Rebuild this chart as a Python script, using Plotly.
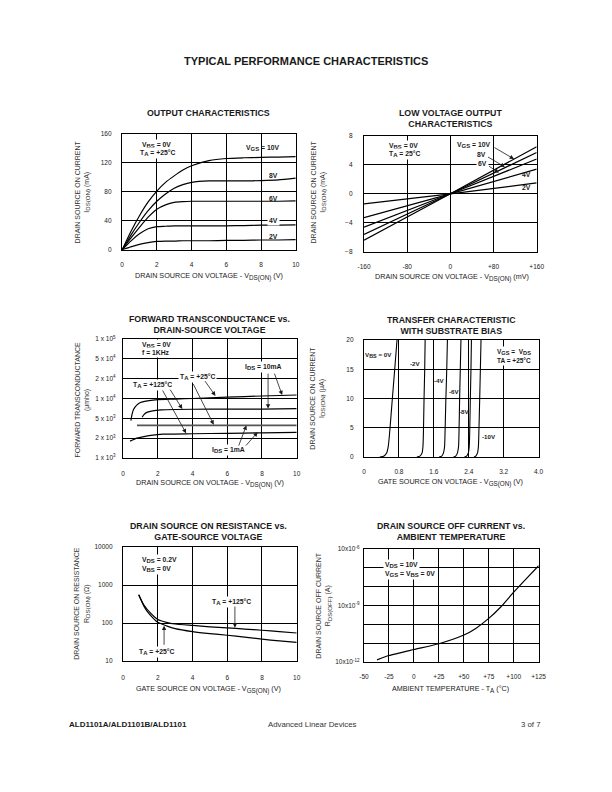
import numpy as np
import plotly.graph_objects as go

FONT = "Liberation Sans, Arial, Helvetica, sans-serif"
W, H = 612, 792
INK = "#1a1a1a"

# ================= DATA =================
# 1. Output characteristics (VBS=0V, TA=+25C)
vds_out = [0, 0.5, 1, 1.5, 2, 2.5, 3, 3.5, 4, 5, 6, 7, 8, 9, 10]
ids_out_10v = [0, 25, 47, 66, 81, 93, 102, 110, 116, 123, 126, 127, 127.5, 128, 128.5]
ids_out_8v = [0, 20, 38, 54, 67, 77, 85, 90, 93, 95, 95, 95, 95.5, 96.5, 99]
ids_out_6v = [0, 16, 31, 45, 56, 62, 65.5, 66.5, 67, 67, 67, 67, 67, 67, 67.5]
ids_out_4v = [0, 12, 22, 29, 32, 32.5, 33, 33, 33, 33, 33, 33.5, 34, 34, 34.5]
ids_out_2v = [0, 4, 7.5, 10, 11.5, 12, 12, 12.5, 12.5, 12.5, 13, 13, 13.5, 13.5, 14]

# 2. Low voltage output characteristics (mV -> mA)
vds_lv = [-160, 0, 160]
ids_lv_10v = [-6.4, 0, 6.5]
ids_lv_8v = [-5.6, 0, 5.7]
ids_lv_6v = [-4.6, 0, 4.8]
ids_lv_4v = [-3.3, 0, 3.4]
ids_lv_2v = [-1.4, 0, 1.5]

# 3. Forward transconductance (umho) vs VDS
gm_ticks = [1e3, 2e3, 5e3, 1e4, 2e4, 5e4, 1e5]
gm_ticktext = ["1 x 10<sup>3</sup>", "2 x 10<sup>3</sup>", "5 x 10<sup>3</sup>",
               "1 x 10<sup>4</sup>", "2 x 10<sup>4</sup>", "5 x 10<sup>4</sup>",
               "1 x 10<sup>5</sup>"]
vds_gm_10ma_25 = [0.45, 0.5, 0.6, 0.8, 1.0, 1.5, 2, 3, 4, 6, 8, 10]
gm_10ma_25 = [4.5e3, 5.5e3, 6.8e3, 8.0e3, 8.7e3, 9.3e3, 9.6e3, 9.8e3, 1.0e4, 1.05e4, 1.09e4, 1.13e4]
vds_gm_10ma_125 = [1.1, 1.2, 1.4, 1.7, 2.2, 3, 5, 8, 10]
gm_10ma_125 = [5.2e3, 5.7e3, 6.2e3, 6.5e3, 6.7e3, 6.8e3, 6.9e3, 6.9e3, 7.0e3]
vds_gm_1ma_25 = [0.8, 10]
gm_1ma_25 = [3.6e3, 3.6e3]
vds_gm_1ma_125 = [0.4, 0.8, 1.2, 1.6, 2.3, 4, 6, 8, 10]
gm_1ma_125 = [1.8e3, 2.0e3, 2.15e3, 2.27e3, 2.4e3, 2.45e3, 2.5e3, 2.55e3, 2.6e3]

# 4. Transfer characteristic with substrate bias (V -> uA)
ids_tr = [0, 0.15, 0.7, 1.8, 4, 10, 15, 20]
vgs_tr_0v = [0.36, 0.46, 0.52, 0.555, 0.585, 0.649, 0.703, 0.756]
vgs_tr_2v = [1.21, 1.28, 1.33, 1.35, 1.36, 1.375, 1.39, 1.40]
vgs_tr_4v = [1.72, 1.78, 1.82, 1.845, 1.855, 1.875, 1.895, 1.91]
vgs_tr_6v = [2.05, 2.10, 2.14, 2.165, 2.175, 2.19, 2.205, 2.22]
vgs_tr_8v = [2.30, 2.35, 2.39, 2.41, 2.42, 2.435, 2.45, 2.46]
vgs_tr_10v = [2.52, 2.56, 2.60, 2.62, 2.63, 2.65, 2.665, 2.68]

# 5. Drain source on resistance (ohm) vs VGS
vgs_r_125 = [0.9, 1.2, 1.6, 2.0, 2.5, 3, 4, 5, 6, 7, 8, 9, 10]
rds_125 = [560, 300, 180, 125, 105, 95, 87, 80, 75, 70, 65, 60, 55]
vgs_r_25 = [0.9, 1.2, 1.4, 1.7, 2.0, 2.5, 3, 4, 5, 6, 7, 8, 9, 10]
rds_25 = [560, 280, 200, 140, 105, 85, 72, 60, 53, 48, 43, 38, 34, 31]

# 6. Drain source off current (A) vs ambient temperature
temp_off = [-37, -25, 0, 25, 50, 62, 75, 87, 100, 112, 125]
ids_off = [1.32e-11, 2.24e-11, 4.7e-11, 9.5e-11, 2.75e-10, 6.2e-10, 2.1e-9, 8.5e-9,
           5.2e-8, 2.5e-7, 1.32e-6]
off_ticks = [1e-11, 1e-10, 1e-9, 1e-8, 1e-7, 1e-6, 1e-5]
off_ticktext = ["10x10<sup>-12</sup>", "", "", "10x10<sup>-9</sup>", "", "", "10x10<sup>-6</sup>"]


def gm_pos(v):
    return np.interp(np.log10(v), np.log10(gm_ticks), np.arange(len(gm_ticks)))


def sub(s):
    return f'<sub><span style="font-size:125%">{s}</span></sub>'


# ================= FIGURE =================
fig = go.Figure()


def ref(i):
    return ("x", "y") if i == 1 else (f"x{i}", f"y{i}")


def curve(i, x, y, width=1.2, color="black"):
    xr, yr = ref(i)
    fig.add_trace(go.Scatter(x=x, y=y, xaxis=xr, yaxis=yr, mode="lines",
                             line=dict(color=color, width=width, shape="spline", smoothing=0.6),
                             showlegend=False, hoverinfo="skip"))


for s in [ids_out_10v, ids_out_8v, ids_out_6v, ids_out_4v, ids_out_2v]:
    curve(1, vds_out, s)
for s in [ids_lv_10v, ids_lv_8v, ids_lv_6v, ids_lv_4v, ids_lv_2v]:
    curve(2, vds_lv, s)
curve(3, vds_gm_10ma_25, gm_pos(gm_10ma_25))
curve(3, vds_gm_10ma_125, gm_pos(gm_10ma_125))
curve(3, vds_gm_1ma_25, gm_pos(gm_1ma_25), width=1.8, color="#555")
curve(3, vds_gm_1ma_125, gm_pos(gm_1ma_125))
for s in [vgs_tr_0v, vgs_tr_2v, vgs_tr_4v, vgs_tr_6v, vgs_tr_8v, vgs_tr_10v]:
    curve(4, s, ids_tr, width=1.1)
curve(5, vgs_r_125, rds_125)
curve(5, vgs_r_25, rds_25)
curve(6, temp_off, ids_off)

# frames in pixels: left, right, top, bottom
frames = {1: (118, 296, 131, 248), 2: (366, 543, 133, 250), 3: (119, 297, 338, 458),
          4: (366, 545, 339, 457), 5: (119, 297, 548, 663), 6: (366, 545, 550, 664)}


def base_axis(standoff):
    return dict(showline=True, mirror=True, linecolor="black", linewidth=1.2,
                showgrid=True, gridcolor="black", gridwidth=1, zeroline=False,
                ticks="", ticklabelstandoff=standoff, fixedrange=True,
                tickfont=dict(family=FONT, size=6.5, color="#222"))


layout = dict(width=W, height=H, margin=dict(l=0, r=0, t=0, b=0),
              paper_bgcolor="white", plot_bgcolor="white", showlegend=False)

xcfg = {
    1: dict(range=[0, 10], tickvals=[0, 2, 4, 6, 8, 10]),
    2: dict(range=[-160, 160], tickvals=[-160, -80, 0, 80, 160],
            ticktext=["-160", "-80", "0", "+80", "+160"]),
    3: dict(range=[0, 10], tickvals=[0, 2, 4, 6, 8, 10]),
    4: dict(range=[0, 4], tickvals=[0, 0.8, 1.6, 2.4, 3.2, 4.0],
            ticktext=["0", "0.8", "1.6", "2.4", "3.2", "4.0"]),
    5: dict(range=[0, 10], tickvals=[0, 2, 4, 6, 8, 10]),
    6: dict(range=[-50, 125], tickvals=[-50, -25, 0, 25, 50, 75, 100, 125],
            ticktext=["-50", "-25", "0", "+25", "+50", "+75", "+100", "+125"]),
}
ycfg = {
    1: dict(range=[0, 160], tickvals=[0, 40, 80, 120, 160]),
    2: dict(range=[-8, 8], tickvals=[-8, -4, 0, 4, 8]),
    3: dict(range=[0, 6], tickvals=list(range(7)), ticktext=gm_ticktext),
    4: dict(range=[0, 20], tickvals=[0, 5, 10, 15, 20]),
    5: dict(type="log", range=[1, 4], tickvals=[10, 100, 1000, 10000],
            ticktext=["10", "100", "1000", "10000"]),
    6: dict(type="log", range=[-11, -5], tickvals=off_ticks, ticktext=off_ticktext),
}
xstand = {1: 8, 2: 8, 3: 9, 4: 8, 5: 10, 6: 8}
ystand = {1: 8, 2: 9, 3: 5, 4: 8, 5: 8, 6: 2}

for i, (l, r, t, b) in frames.items():
    xr, yr = ref(i)
    xa = base_axis(xstand[i]); xa.update(xcfg[i])
    ya = base_axis(ystand[i]); ya.update(ycfg[i])
    xa.update(domain=[l / W, r / W], anchor=yr)
    ya.update(domain=[1 - b / H, 1 - t / H], anchor=xr)
    layout["xaxis" if i == 1 else f"xaxis{i}"] = xa
    layout["yaxis" if i == 1 else f"yaxis{i}"] = ya

annotations = []


def label(i, x, y, text, size=6.8, xanchor="center", bg=None):
    xr, yr = ref(i)
    d = dict(xref=xr, yref=yr, x=x, y=y, text=f"<b>{text}</b>", showarrow=False,
             xanchor=xanchor, yanchor="middle",
             font=dict(family=FONT, size=size, color=INK), borderpad=1)
    if bg:
        d["bgcolor"] = bg
    annotations.append(d)


def arrow(i, x0, y0, x1, y1):
    xr, yr = ref(i)
    annotations.append(dict(xref=xr, yref=yr, x=x1, y=y1, ax=x0, ay=y0, axref=xr, ayref=yr,
                            text="", showarrow=True, arrowhead=2, arrowsize=1.1,
                            arrowwidth=0.8, arrowcolor=INK, standoff=0))


def page_text(px, py, text, size, bold=False, xanchor="center", angle=0, color=INK):
    t = f"<b>{text}</b>" if bold else text
    annotations.append(dict(xref="paper", yref="paper", x=px / W, y=1 - py / H, text=t,
                            showarrow=False, xanchor=xanchor, yanchor="middle",
                            textangle=angle, font=dict(family=FONT, size=size, color=color)))


WB = "white"
# --- plot 1 labels
label(1, 2.0, 144, f"V{sub('BS')} = 0V", bg=WB)
label(1, 2.05, 133, f"T{sub('A')} = +25°C", bg=WB)
label(1, 8.1, 140, f"V{sub('GS')} = 10V")
label(1, 8.7, 102, "8V")
label(1, 8.7, 71, "6V")
label(1, 8.7, 40, "4V", bg=WB)
label(1, 8.7, 19, "2V")

# --- plot 2 labels
label(2, -117, 6.65, f"V{sub('BS')} = 0V", xanchor="left", bg=WB)
label(2, -117, 5.55, f"T{sub('A')} = 25°C", xanchor="left", bg=WB)
label(2, 42, 6.76, f"V{sub('GS')} = 10V")
label(2, 58, 5.4, "8V")
label(2, 60, 4.15, "6V", bg=WB)
label(2, 141, 2.6, "4V")
label(2, 141, 0.9, "2V")
arrow(2, 79, 6.5, 118, 4.8)
arrow(2, 67, 5.2, 101, 3.7)
arrow(2, 69, 3.95, 90, 2.9)

# --- plot 3 labels (y in tick-position units)
label(3, 1.0, 5.69, f"V{sub('BS')} = 0V", xanchor="left", bg=WB)
label(3, 1.0, 5.33, "f = 1KHz", xanchor="left", bg=WB)
label(3, 4.3, 4.07, f"T{sub('A')} = +25°C", bg=WB)
label(3, 1.67, 3.69, f"T{sub('A')} = +125°C", bg=WB)
label(3, 8.03, 4.57, f"I{sub('DS')} = 10mA", bg=WB)
label(3, 6.07, 0.39, f"I{sub('DS')} = 1mA", bg=WB)
arrow(3, 4.66, 3.95, 5.32, 3.13)
arrow(3, 4.0, 3.8, 5.22, 1.68)
arrow(3, 2.66, 3.52, 3.41, 2.47)
arrow(3, 2.23, 3.48, 3.63, 1.24)
arrow(3, 8.35, 4.33, 8.35, 2.49)
arrow(3, 8.69, 4.33, 9.16, 3.17)
arrow(3, 6.63, 0.55, 7.1, 1.64)
arrow(3, 7.0, 0.55, 7.75, 1.3)

# --- plot 4 labels
label(4, 0.34, 17.5, f"V{sub('BS')} = 0V", size=6.2)
label(4, 1.19, 15.9, "-2V", size=6.2)
label(4, 1.73, 13.1, "-4V", size=6.2)
label(4, 2.07, 11.2, "-6V", size=6.2)
label(4, 2.31, 7.8, "-8V", size=6.2)
label(4, 2.86, 3.5, "-10V", size=6.2)
label(4, 2.99, 17.9, f"V{sub('GS')} =  V{sub('DS')}", size=6.5, xanchor="left", bg=WB)
label(4, 2.99, 16.5, "TA = +25°C", size=6.5, xanchor="left", bg=WB)

# --- plot 5 labels (log axis -> log10 coordinates)
label(5, 0.97, np.log10(4470), f"V{sub('DS')} = 0.2V", xanchor="left", bg=WB)
label(5, 0.97, np.log10(2700), f"V{sub('BS')} = 0V", xanchor="left", bg=WB)
label(5, 6.25, np.log10(370), f"T{sub('A')} = +125°C", bg=WB)
label(5, 1.95, np.log10(17), f"T{sub('A')} = +25°C", bg=WB)
arrow(5, 6.44, np.log10(300), 6.44, np.log10(76))
arrow(5, 2.36, np.log10(24.6), 2.36, np.log10(86))

# --- plot 6 labels
label(6, -31.4, -5.85, f"V{sub('DS')} = 10V", xanchor="left", bg=WB)
label(6, -31.4, -6.3, f"V{sub('GS')} = V{sub('BS')} = 0V", xanchor="left", bg=WB)

# --- titles
page_text(306, 57.5, "TYPICAL PERFORMANCE CHARACTERISTICS", 11, bold=True)
page_text(207, 110, "OUTPUT CHARACTERISTICS", 8.8, bold=True)
page_text(455, 115.5, "LOW VOLTAGE OUTPUT<br>CHARACTERISTICS", 8.8, bold=True)
page_text(208, 323, "FORWARD TRANSCONDUCTANCE vs.<br>DRAIN-SOURCE VOLTAGE", 8.8, bold=True)
page_text(456, 324, "TRANSFER CHARACTERISTIC<br>WITH SUBSTRATE BIAS", 8.8, bold=True)
page_text(207, 532, "DRAIN SOURCE ON RESISTANCE vs.<br>GATE-SOURCE VOLTAGE", 8.8, bold=True)
page_text(455, 532, "DRAIN SOURCE OFF CURRENT vs.<br>AMBIENT TEMPERATURE", 8.8, bold=True)

# --- axis titles
xt = 7.2
page_text(207, 275, f"DRAIN SOURCE ON VOLTAGE - V{sub('DS(ON)')} (V)", xt)
page_text(456, 276, f"DRAIN SOURCE ON VOLTAGE - V{sub('DS(ON)')} (mV)", xt)
page_text(208, 484, f"DRAIN SOURCE ON VOLTAGE - V{sub('DS(ON)')} (V)", xt)
page_text(455, 483, f"GATE SOURCE ON VOLTAGE - V{sub('GS(ON)')} (V)", xt)
page_text(207, 692, f"GATE SOURCE ON VOLTAGE - V{sub('GS(ON)')} (V)", xt)
page_text(455, 691, f"AMBIENT TEMPERATURE - T{sub('A')} (°C)", xt)

yt = 7.0
page_text(78, 190, f"DRAIN SOURCE ON CURRENT<br>I{sub('DS(ON)')} (mA)", yt, angle=-90, color="#333")
page_text(320, 190, f"DRAIN SOURCE ON CURRENT<br>I{sub('DS(ON)')} (mA)", yt, angle=-90, color="#333")
page_text(77, 399, "FORWARD TRANSCONDUCTANCE<br>(μmho)", yt, angle=-90, color="#333")
page_text(319, 398, f"DRAIN SOURCE ON CURRENT<br>I{sub('DS(ON)')} (μA)", yt, angle=-90, color="#333")
page_text(77, 605, f"DRAIN SOURCE ON RESISTANCE<br>R{sub('DS(ON)')} (Ω)", yt, angle=-90, color="#333")
page_text(325, 607, f"DRAIN SOURCE OFF CURRENT<br>R{sub('DS(OFF)')} (A)", yt, angle=-90, color="#333")

# --- footer
page_text(62, 727, "ALD1101A/ALD1101B/ALD1101", 8, bold=True, xanchor="left")
page_text(313, 727, "Advanced Linear Devices", 7.8, color="#333")
page_text(549, 727, "3 of 7", 7.8, xanchor="right", color="#333")

layout["annotations"] = annotations
fig.update_layout(**layout)
fig.write_html("out.html", config={"displayModeBar": False, "staticPlot": True},
               post_script="document.body.style.margin='0px';document.body.style.overflow='hidden';")
